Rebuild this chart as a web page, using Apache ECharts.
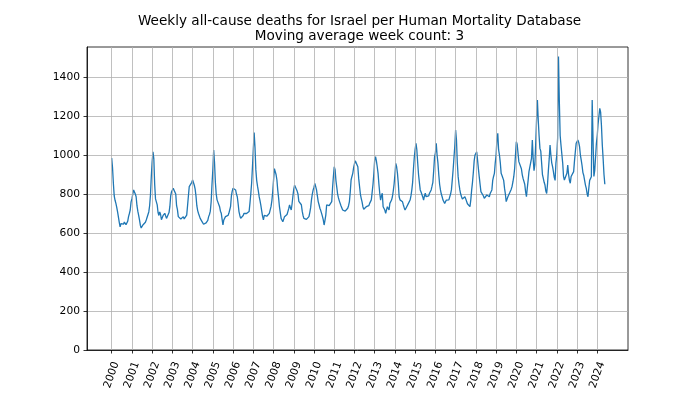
<!DOCTYPE html>
<html>
<head>
<meta charset="utf-8">
<script src="https://cdn.jsdelivr.net/npm/echarts@6/dist/echarts.min.js"></script>
<style>
html,body{margin:0;padding:0;background:#fff;}
#chart{width:700px;height:394px;}
</style>
</head>
<body>
<div id="chart"></div>
<script>
// Year tick labels (x axis) and value tick labels (y axis)
const yearTicks = [2000,2001,2002,2003,2004,2005,2006,2007,2008,2009,2010,2011,2012,2013,2014,2015,2016,2017,2018,2019,2020,2021,2022,2023,2024];
const valueTicks = [0,200,400,600,800,1000,1200,1400];

const d2000 = [985,935,855,790,768,752,732,708,682,655,632,648,652,641,645,656,650,643,641,660,684,700,718,760];
const d2001 = [775,800,821,829,800,786,740,712,690,667,640,626,634,641,645,641,655,667,672,675,708,740,795,890];
const d2002 = [965,1017,980,850,775,760,744,705,690,708,695,668,672,690,695,701,688,675,680,684,705,735,790,812];
const d2003 = [822,829,838,832,800,740,720,684,680,675,672,667,676,684,672,667,680,692,740,790,838,842,846,860];
const d2004 = [872,865,845,825,790,740,715,700,690,675,665,660,655,645,641,648,652,656,665,684,695,712,760,850];
const d2005 = [925,1025,960,860,800,770,778,760,735,712,701,670,641,667,675,684,680,675,690,701,718,735,790,815];
const d2006 = [830,838,832,821,800,786,750,710,690,675,680,684,690,701,706,710,700,692,700,710,752,800,855,940];
const d2007 = [1030,1115,1040,925,870,840,815,785,765,740,712,685,667,690,685,680,686,692,696,701,710,735,765,810];
const d2008 = [870,930,940,900,872,820,780,735,705,675,665,658,670,684,680,684,695,710,725,744,730,718,750,790];
const d2009 = [825,845,855,840,815,800,762,768,770,745,712,690,675,670,667,670,675,680,684,705,730,770,800,821];
const d2010 = [835,855,845,821,790,761,745,727,715,701,685,667,641,665,692,744,748,752,740,735,748,761,830,890];
const d2011 = [940,925,870,835,800,780,765,755,740,730,718,710,708,712,716,720,727,740,761,810,872,890,906,935];
const d2012 = [955,970,975,960,940,880,840,800,778,760,735,722,718,730,735,730,727,740,752,755,770,810,850,905];
const d2013 = [975,992,970,940,906,850,804,769,790,804,735,725,718,701,710,735,725,718,752,760,769,786,815,850];
const d2014 = [900,957,940,906,855,786,770,761,770,760,744,730,718,725,735,745,752,760,769,790,820,860,930,990];
const d2015 = [1030,1060,1026,960,900,860,821,810,804,785,769,790,804,786,780,778,790,804,812,821,840,860,920,990];
const d2016 = [1010,1060,1000,960,900,850,821,800,786,769,760,752,760,769,765,761,770,778,800,821,870,923,985,1045];
const d2017 = [1128,1077,960,889,850,821,800,786,775,769,780,786,775,769,750,744,740,735,770,820,860,910,970,1000];
const d2018 = [1009,1017,975,930,889,850,812,805,804,790,778,769,786,795,786,800,786,803,812,821,870,890,906,960];
const d2019 = [1000,1080,1111,1026,1000,960,906,895,889,870,830,800,761,770,786,795,805,812,825,840,863,890,930,1000];
const d2020 = [1068,1055,1010,966,960,957,930,900,880,890,850,812,786,830,870,915,920,923,983,1077,980,920,950,1060];
const d2021 = [1180,1282,1180,1100,1034,1020,960,900,880,860,846,815,803,850,920,980,1051,1000,960,940,915,885,870,960];
const d2022 = [1000,1086,1505,1280,1100,1050,1060,960,890,872,863,870,906,949,900,870,855,890,897,900,915,970,1017,1060];
const d2023 = [1070,1077,1065,1043,1000,974,945,910,895,870,846,829,800,786,830,870,860,889,1282,1080,890,920,990,1060];
const d2024 = [1100,1160,1200,1239,1220,1150,1050,980,900,850];

const deathsByYear = [d2000,d2001,d2002,d2003,d2004,d2005,d2006,d2007,d2008,d2009,d2010,d2011,d2012,d2013,d2014,d2015,d2016,d2017,d2018,d2019,d2020,d2021,d2022,d2023,d2024];

const seriesData = [];
deathsByYear.forEach(function (arr, k) {
  arr.forEach(function (v, i) {
    seriesData.push([yearTicks[k] + i / 24, v]);
  });
});

const GRID_COLOR = '#b0b0b0';
const FONT = 'DejaVu Sans';
const chart = echarts.init(document.getElementById('chart'), null, {renderer: 'canvas'});
chart.setOption({
  animation: false,
  backgroundColor: '#ffffff',
  title: {
    text: 'Weekly all-cause deaths for Israel per Human Mortality Database\nMoving average week count: 3',
    left: 354.5,
    textAlign: 'center',
    top: 9,
    textStyle: {fontFamily: FONT, fontSize: 13.6, fontWeight: 'normal', color: '#000', lineHeight: 15}
  },
  grid: {left: 87, right: 72, top: 47, bottom: 44, show: true, borderColor: '#000', borderWidth: 0.8, containLabel: false},
  xAxis: {
    type: 'value',
    min: 1998.78,
    max: 2025.52,
    axisLine: {show: true, onZero: false, lineStyle: {color: '#000', width: 0.8}},
    axisTick: {show: true, length: 3.5, lineStyle: {color: '#000', width: 0.8}, customValues: yearTicks},
    axisLabel: {
      customValues: yearTicks,
      rotate: 70,
      align: 'center',
      verticalAlign: 'middle',
      margin: 25,
      fontFamily: FONT,
      fontSize: 10.7,
      color: '#000',
      formatter: function (v) { return String(Math.round(v)); }
    },
    splitLine: {show: false}
  },
  yAxis: {
    type: 'value',
    min: 0,
    max: 1554,
    interval: 200,
    axisLine: {show: true, lineStyle: {color: '#000', width: 0.8}},
    axisTick: {show: true, length: 3.5, lineStyle: {color: '#000', width: 0.8}, customValues: valueTicks},
    axisLabel: {customValues: valueTicks, margin: 7, fontFamily: FONT, fontSize: 10.7, color: '#000',
      formatter: function (v) { return String(v); }},
    splitLine: {show: true, lineStyle: {color: GRID_COLOR, width: 0.8}}
  },
  series: [{
    type: 'line',
    name: 'yeargrid',
    data: [],
    silent: true,
    z: 1,
    markLine: {
      silent: true,
      symbol: ['none', 'none'],
      label: {show: false},
      lineStyle: {color: GRID_COLOR, width: 0.8, type: 'solid'},
      emphasis: {disabled: true},
      animation: false,
      data: yearTicks.map(function (y) { return {xAxis: y}; })
    }
  }, {
    type: 'line',
    name: 'deaths',
    data: seriesData,
    showSymbol: false,
    symbol: 'none',
    lineStyle: {color: '#1f77b4', width: 1.3},
    z: 3
  }]
});
</script>
</body>
</html>
